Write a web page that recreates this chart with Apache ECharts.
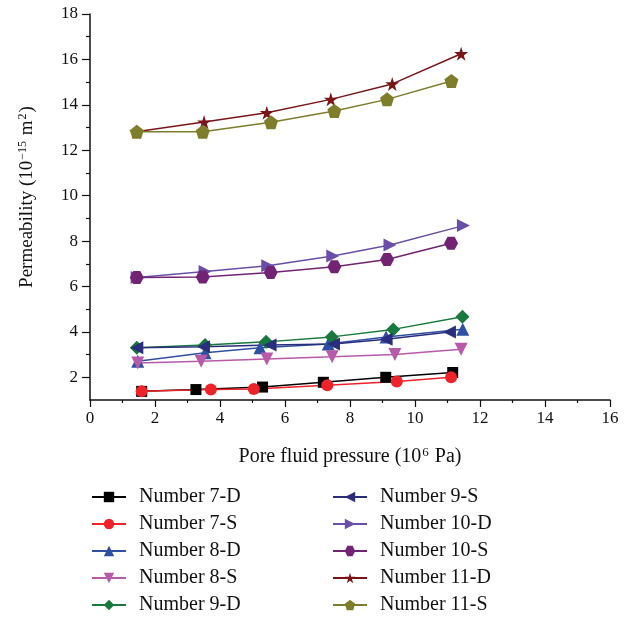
<!DOCTYPE html>
<html>
<head>
<meta charset="utf-8">
<script src="https://cdn.jsdelivr.net/npm/echarts@6/dist/echarts.min.js"></script>
<style>
  html, body { margin: 0; padding: 0; background: #fff; }
  #main { width: 634px; height: 618px; }
</style>
</head>
<body>
<div id="main"></div>
<script>
// 数据 (pressure in 1e6 Pa, permeability in 1e-15 m^2)
var names = ['Number 7-D', 'Number 7-S', 'Number 8-D', 'Number 8-S', 'Number 9-D',
             'Number 9-S', 'Number 10-D', 'Number 10-S', 'Number 11-D', 'Number 11-S'];

var p7D  = [1.59, 3.26, 5.31, 7.18, 9.10, 11.16];
var k7D  = [1.38, 1.46, 1.57, 1.78, 2.00, 2.21];
var p7S  = [1.59, 3.72, 5.04, 7.30, 9.44, 11.11];
var k7S  = [1.38, 1.46, 1.48, 1.65, 1.81, 2.00];
var p8D  = [1.47, 3.54, 5.23, 7.33, 9.11, 11.47];
var k8D  = [2.71, 3.08, 3.30, 3.47, 3.77, 4.12];
var p8S  = [1.47, 3.42, 5.44, 7.45, 9.38, 11.42];
var k8S  = [2.63, 2.71, 2.81, 2.90, 3.00, 3.24];
var p9D  = [1.44, 3.54, 5.42, 7.44, 9.33, 11.46];
var k9D  = [3.30, 3.42, 3.56, 3.78, 4.11, 4.67];
var p9S  = [1.44, 3.49, 5.54, 7.49, 9.11, 11.06];
var k9S  = [3.30, 3.34, 3.42, 3.47, 3.68, 3.99];
var p10D = [1.45, 3.54, 5.47, 7.47, 9.23, 11.49];
var k10D = [6.40, 6.66, 6.91, 7.34, 7.83, 8.68];
var p10S = [1.44, 3.47, 5.56, 7.52, 9.14, 11.11];
var k10S = [6.39, 6.42, 6.61, 6.87, 7.19, 7.90];
var p11D = [1.42, 3.51, 5.44, 7.41, 9.30, 11.42];
var k11D = [12.81, 13.24, 13.65, 14.24, 14.92, 16.25];
var p11S = [1.44, 3.47, 5.57, 7.52, 9.14, 11.12];
var k11S = [12.81, 12.81, 13.23, 13.73, 14.24, 15.05];

var yMajor = [2, 4, 6, 8, 10, 12, 14, 16, 18];
var yMinor = [3, 5, 7, 9, 11, 13, 15, 17];

var chart = echarts.init(document.getElementById('main'));

var FONT = '"Liberation Serif", "DejaVu Serif", serif';
var hexagon = 'path://M-1,0L-0.5,-0.87L0.5,-0.87L1,0L0.5,0.87L-0.5,0.87Z';
var star = 'path://M0,-1L0.2245,-0.309L0.951,-0.309L0.363,0.118L0.588,0.809L0,0.382L-0.588,0.809L-0.363,0.118L-0.951,-0.309L-0.2245,-0.309Z';
var pentagon = 'path://M0,-1L0.951,-0.309L0.588,0.809L-0.588,0.809L-0.951,-0.309Z';

function pairs(xs, ys) {
    return xs.map(function (x, i) { return [x, ys[i]]; });
}

function mk(name, xs, ys, color, symbol, size, rotate) {
    return {
        name: name,
        type: 'line',
        data: pairs(xs, ys),
        symbol: symbol,
        symbolSize: size,
        symbolRotate: rotate || 0,
        showSymbol: true,
        lineStyle: { color: color, width: 1.5 },
        itemStyle: { color: color },
        emphasis: { disabled: true },
        z: 2
    };
}

var series = [
    mk(names[0], p7D, k7D, '#000000', 'rect', 11),
    mk(names[1], p7S, k7S, '#ee2229', 'circle', 12),
    mk(names[2], p8D, k8D, '#2f4fa3', 'triangle', 13),
    mk(names[3], p8S, k8S, '#b85aaa', 'triangle', 13, 180),
    mk(names[4], p9D, k9D, '#177a3c', 'diamond', 14),
    mk(names[5], p9S, k9S, '#2a2d7c', 'triangle', 13, 90),
    mk(names[6], p10D, k10D, '#6a4fa9', 'triangle', 13, -90),
    mk(names[7], p10S, k10S, '#732373', hexagon, [14, 13]),
    mk(names[8], p11D, k11D, '#7b1417', star, 14),
    mk(names[9], p11S, k11S, '#7d7d2b', pentagon, 14)
];

var legendBase = {
    orient: 'vertical',
    top: 487,
    padding: 0,
    itemWidth: 34,
    itemHeight: 13,
    itemGap: 7,
    textStyle: { fontFamily: FONT, fontSize: 20, lineHeight: 20, color: '#111', padding: [0, 0, 0, 8] }
};

var option = {
    animation: false,
    backgroundColor: '#fff',
    grid: { left: 90, right: 24, top: 14, bottom: 218, containLabel: false },
    legend: [
        Object.assign({}, legendBase, { left: 91, data: names.slice(0, 5) }),
        Object.assign({}, legendBase, { left: 332, data: names.slice(5) })
    ],
    xAxis: {
        type: 'value',
        min: 0, max: 16, interval: 2,
        name: '{t|Pore fluid pressure (10}{s|6}{t| Pa)}',
        nameLocation: 'middle',
        nameGap: 46,
        nameTextStyle: {
            rich: {
                t: { fontFamily: FONT, fontSize: 20, color: '#111' },
                s: { fontFamily: FONT, fontSize: 13, color: '#111', padding: [0, 1, 9, 1] }
            }
        },
        axisLine: { show: true, onZero: false, lineStyle: { color: '#111', width: 1.5 } },
        axisTick: { show: true, inside: false, length: 7, lineStyle: { color: '#111', width: 1.2 } },
        minorTick: { show: true, splitNumber: 2, length: 3, lineStyle: { color: '#111', width: 1.2 } },
        axisLabel: { fontFamily: FONT, fontSize: 17, color: '#111', margin: 10 },
        splitLine: { show: false }
    },
    yAxis: [{
        type: 'value',
        min: 1, max: 18,
        name: '{t|Permeability (10}{s|\u221215}{t| m}{s|2}{t|)}',
        nameLocation: 'middle',
        nameGap: 52,
        nameRotate: 90,
        nameTextStyle: {
            padding: [0, 0, 0, 20],
            rich: {
                t: { fontFamily: FONT, fontSize: 19, color: '#111' },
                s: { fontFamily: FONT, fontSize: 12, color: '#111', padding: [0, 1, 9, 1] }
            }
        },
        axisLine: { show: true, onZero: false, lineStyle: { color: '#111', width: 1.5 } },
        axisTick: { show: true, inside: false, length: 8, customValues: yMajor, lineStyle: { color: '#111', width: 1.2 } },
        axisLabel: { fontFamily: FONT, fontSize: 17, color: '#111', margin: 12, customValues: yMajor },
        splitLine: { show: false }
    }, {
        type: 'value',
        position: 'left',
        min: 1, max: 18,
        axisLine: { show: false },
        axisTick: { show: true, inside: false, length: 4, customValues: yMinor, lineStyle: { color: '#111', width: 1.2 } },
        axisLabel: { show: false },
        splitLine: { show: false }
    }],
    series: series
};

chart.setOption(option);
</script>
</body>
</html>
